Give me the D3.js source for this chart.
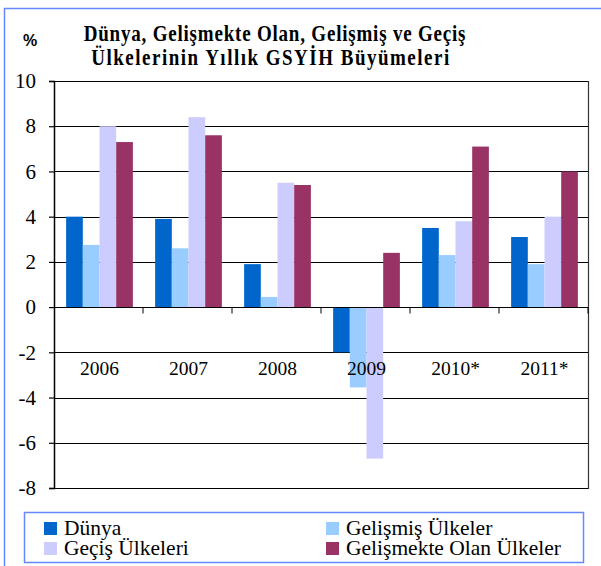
<!DOCTYPE html>
<html lang="tr">
<head>
    <meta charset="UTF-8">
    <title>GSYİH Büyümeleri</title>
    <style>
        body { margin: 0; background: #fff; }
    </style>
</head>
<body>

    <svg id="svg" width="601" height="566"></svg>

    <script src="https://d3js.org/d3.v7.min.js"></script>
    <script>
        // data
        const years = ['2006', '2007', '2008', '2009', '2010*', '2011*']
        const seriesNames = ['Dünya', 'Gelişmiş Ülkeler', 'Geçiş Ülkeleri', 'Gelişmekte Olan Ülkeler']
        const dunya      = [4.0, 3.9, 1.9, -2.0, 3.5, 3.1]
        const gelismis   = [2.75, 2.6, 0.45, -3.55, 2.3, 1.9]
        const gecis      = [8.0, 8.4, 5.5, -6.7, 3.8, 4.0]
        const gelismekte = [7.3, 7.6, 5.4, 2.4, 7.1, 6.0]
        const yTicks = [10, 8, 6, 4, 2, 0, -2, -4, -6, -8]
        const colors = ['#0066cc', '#99ccff', '#ccccff', '#993366']

        const serif = '"Liberation Serif", "Times New Roman", serif'

        const allSeries = [dunya, gelismis, gecis, gelismekte]
        const rows = years.map((y, i) => ({
            year: y,
            values: allSeries.map((s, j) => ({ key: j, value: s[i] }))
        }))

        const svg = d3.select('#svg')

        // outer frame (runs off the right and bottom edge)
        svg.append('rect')
            .attr('x', 4.5).attr('y', 8.5)
            .attr('width', 620).attr('height', 600)
            .attr('fill', 'none')
            .attr('stroke', '#6688ff')
            .attr('stroke-width', 1.5)

        const plotLeft = 54, plotRight = 588, plotTop = 81, plotBottom = 488

        const yScale = d3.scaleLinear()
            .domain([-8, 10])
            .range([plotBottom, plotTop])

        const xScale = d3.scaleBand()
            .domain(years)
            .range([plotLeft, plotRight])
            .padding(0)

        const bw = xScale.bandwidth()
        const gap = bw * 0.25
        const x1 = d3.scaleBand()
            .domain(d3.range(4))
            .range([gap / 2 + 1, bw - gap / 2 + 1])

        // grid lines
        svg.append('g')
            .selectAll('line')
            .data(yTicks)
            .join('line')
            .attr('x1', plotLeft).attr('x2', plotRight)
            .attr('y1', d => Math.round(yScale(d)) + 0.5)
            .attr('y2', d => Math.round(yScale(d)) + 0.5)
            .attr('stroke', '#000')
            .attr('stroke-width', 1.2)

        // bars
        svg.append('g')
            .selectAll('g')
            .data(rows)
            .join('g')
            .attr('transform', d => `translate(${xScale(d.year)},0)`)
            .selectAll('rect')
            .data(d => d.values)
            .join('rect')
            .attr('x', d => x1(d.key))
            .attr('width', x1.bandwidth())
            .attr('y', d => yScale(Math.max(0, d.value)))
            .attr('height', d => Math.abs(yScale(d.value) - yScale(0)))
            .attr('fill', d => colors[d.key])

        // plot border right side
        svg.append('line')
            .attr('x1', plotRight + 0.5).attr('x2', plotRight + 0.5)
            .attr('y1', plotTop).attr('y2', plotBottom + 1)
            .attr('stroke', '#333')
            .attr('stroke-width', 1.2)

        // zero line with category ticks
        const y0 = Math.round(yScale(0)) + 0.5
        svg.append('line')
            .attr('x1', plotLeft).attr('x2', plotRight)
            .attr('y1', y0).attr('y2', y0)
            .attr('stroke', '#000')
            .attr('stroke-width', 1.2)
        svg.append('g')
            .selectAll('line')
            .data(years.slice(1).concat(['end']))
            .join('line')
            .attr('x1', d => d === 'end' ? plotRight : xScale(d))
            .attr('x2', d => d === 'end' ? plotRight : xScale(d))
            .attr('y1', y0).attr('y2', y0 + 6)
            .attr('stroke', '#000')

        // y axis
        const yAxis = svg.append('g')
            .attr('transform', `translate(${plotLeft},0)`)
            .call(d3.axisLeft(yScale).tickValues(yTicks).tickSize(5).tickPadding(13).tickFormat(d => String(d)))
        yAxis.select('.domain').attr('stroke-width', 1.5)
        yAxis.selectAll('.tick line').attr('stroke-width', 1.2)
        yAxis.selectAll('text')
            .style('font-size', '21px')
            .style('font-family', serif)
            .attr('fill', '#000')

        // category labels
        svg.append('g')
            .selectAll('text')
            .data(years)
            .join('text')
            .attr('x', d => xScale(d) + bw / 2 + 1)
            .attr('y', 375)
            .attr('text-anchor', 'middle')
            .style('font-family', serif)
            .style('font-size', '19.5px')
            .text(d => d)

        // title (tall, slightly stretched as in the original)
        const title = svg.append('text')
            .attr('transform', 'scale(1,1.22)')
            .attr('text-anchor', 'middle')
            .style('font-family', serif)
            .style('font-weight', 'bold')
            .style('font-size', '19px')
        title.append('tspan').attr('x', 275).attr('y', 33.5)
            .style('letter-spacing', '0.8px')
            .text('Dünya, Gelişmekte Olan, Gelişmiş ve Geçiş')
        title.append('tspan').attr('x', 271).attr('y', 53)
            .style('letter-spacing', '1.5px')
            .text('Ülkelerinin Yıllık GSYİH Büyümeleri')

        svg.append('text')
            .attr('x', 30).attr('y', 46)
            .attr('text-anchor', 'middle')
            .style('font-weight', 'bold')
            .style('font-size', '16px')
            .style('font-family', '"Liberation Sans", Arial, sans-serif')
            .text('%')

        // legend
        svg.append('rect')
            .attr('x', 24.5).attr('y', 512.5)
            .attr('width', 559).attr('height', 50)
            .attr('fill', 'none')
            .attr('stroke', '#6688ff')
            .attr('stroke-width', 1.5)

        const legendPos = [[44, 522], [326, 522], [44, 542], [326, 542]]
        const legend = svg.append('g')
            .selectAll('g')
            .data(seriesNames)
            .join('g')
            .attr('transform', (d, i) => `translate(${legendPos[i][0]},${legendPos[i][1]})`)
        legend.append('rect')
            .attr('width', 13).attr('height', 13)
            .attr('fill', (d, i) => colors[i])
        legend.append('text')
            .attr('x', 20).attr('y', 12.5)
            .style('font-family', serif)
            .style('font-size', '21.5px')
            .text(d => d)
    </script>
</body>
</html>
